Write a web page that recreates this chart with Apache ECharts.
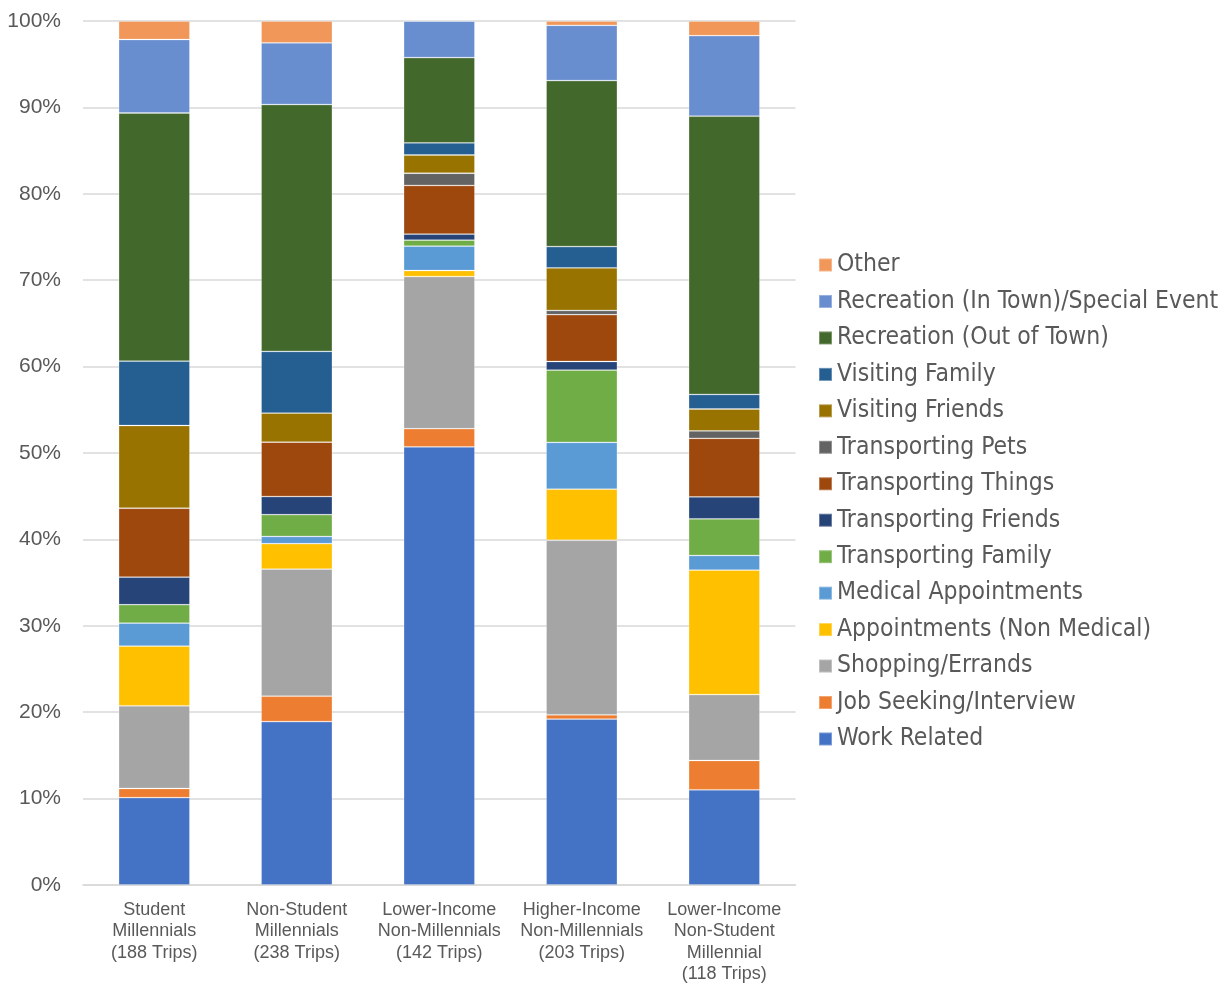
<!DOCTYPE html>
<html>
<head>
<meta charset="utf-8">
<title>Trip Purpose by Group</title>
<script src="https://cdn.jsdelivr.net/npm/echarts@6/dist/echarts.min.js"></script>
<style>
  html, body { margin: 0; padding: 0; background: #ffffff; }
  #chart { width: 1228px; height: 985px; }
</style>
</head>
<body>
<div id="chart"></div>
<script>
// Groups of travellers (x-axis categories)
const categories = [
  'Student\nMillennials\n(188 Trips)',
  'Non-Student\nMillennials\n(238 Trips)',
  'Lower-Income\nNon-Millennials\n(142 Trips)',
  'Higher-Income\nNon-Millennials\n(203 Trips)',
  'Lower-Income\nNon-Student\nMillennial\n(118 Trips)'
];

// Share of trips (%) by purpose, one value per group
const workRelated        = [10.11, 18.91, 50.70, 19.21, 11.02];
const jobSeeking         = [1.06, 2.94, 2.11, 0.49, 3.39];
const shoppingErrands    = [9.57, 14.71, 17.61, 20.20, 7.63];
const appointmentsNonMed = [6.91, 2.94, 0.70, 5.91, 14.41];
const medicalAppts       = [2.66, 0.84, 2.82, 5.42, 1.69];
const transFamily        = [2.13, 2.52, 0.70, 8.37, 4.24];
const transFriends       = [3.19, 2.10, 0.70, 0.99, 2.54];
const transThings        = [7.98, 6.30, 5.63, 5.42, 6.78];
const transPets          = [0, 0, 1.41, 0.49, 0.85];
const visitingFriends    = [9.57, 3.36, 2.11, 4.93, 2.54];
const visitingFamily     = [7.45, 7.14, 1.41, 2.46, 1.69];
const recOutOfTown       = [28.72, 28.57, 9.86, 19.21, 32.20];
const recInTown          = [8.51, 7.14, 4.23, 6.40, 9.32];
const other              = [2.13, 2.52, 0, 0.49, 1.69];

// Y-axis tick values
const yTicks = [0, 10, 20, 30, 40, 50, 60, 70, 80, 90, 100];

const seriesDefs = [
  { name: 'Work Related',                       data: workRelated,        color: '#4472C4' },
  { name: 'Job Seeking/Interview',              data: jobSeeking,         color: '#ED7D31' },
  { name: 'Shopping/Errands',                   data: shoppingErrands,    color: '#A5A5A5' },
  { name: 'Appointments (Non Medical)',         data: appointmentsNonMed, color: '#FFC000' },
  { name: 'Medical Appointments',               data: medicalAppts,       color: '#5B9BD5' },
  { name: 'Transporting Family',                data: transFamily,        color: '#70AD47' },
  { name: 'Transporting Friends',               data: transFriends,       color: '#264478' },
  { name: 'Transporting Things',                data: transThings,        color: '#9E480E' },
  { name: 'Transporting Pets',                  data: transPets,          color: '#636363' },
  { name: 'Visiting Friends',                   data: visitingFriends,    color: '#997300' },
  { name: 'Visiting Family',                    data: visitingFamily,     color: '#255E91' },
  { name: 'Recreation (Out of Town)',           data: recOutOfTown,       color: '#43682B' },
  { name: 'Recreation (In Town)/Special Event', data: recInTown,          color: '#698ED0' },
  { name: 'Other',                              data: other,              color: '#F1975A' }
];

const chart = echarts.init(document.getElementById('chart'), null, { renderer: 'canvas' });

const textColor = '#595959';

chart.setOption({
  animation: false,
  backgroundColor: '#ffffff',
  grid: { left: 83, right: 432.5, top: 21, bottom: 98.5, containLabel: false },
  legend: {
    orient: 'vertical',
    left: 813,
    top: 247,
    padding: 5,
    itemWidth: 13,
    itemHeight: 13,
    itemGap: 10.46,
    icon: 'rect',
    data: seriesDefs.map(s => s.name).reverse(),
    textStyle: {
      fontFamily: 'DejaVu Sans Condensed, DejaVu Sans, sans-serif',
      fontSize: 24.5,
      lineHeight: 26,
      color: textColor
    }
  },
  xAxis: {
    type: 'category',
    data: categories,
    axisLine: { show: true, lineStyle: { color: '#d9d9d9', width: 1.5 } },
    axisTick: { show: false },
    axisLabel: {
      interval: 0,
      margin: 14,
      color: textColor,
      fontFamily: 'Liberation Sans, Arial, sans-serif',
      fontSize: 18,
      lineHeight: 21.5
    }
  },
  yAxis: {
    type: 'value',
    min: yTicks[0],
    max: yTicks[yTicks.length - 1],
    interval: yTicks[1] - yTicks[0],
    axisLine: { show: false },
    axisTick: { show: false },
    splitLine: { lineStyle: { color: '#d9d9d9', width: 1.5 } },
    axisLabel: {
      margin: 22,
      color: textColor,
      fontFamily: 'Liberation Sans Narrow, Liberation Sans, sans-serif',
      fontSize: 21,
      formatter: '{value}%'
    }
  },
  series: seriesDefs.map(s => ({
    name: s.name,
    type: 'bar',
    stack: 'total',
    barWidth: '50%',
    data: s.data,
    itemStyle: {
      color: s.color,
      borderColor: 'rgba(255,255,255,0.3)',
      borderWidth: 0.8
    },
    emphasis: { disabled: true }
  }))
});
</script>
</body>
</html>
